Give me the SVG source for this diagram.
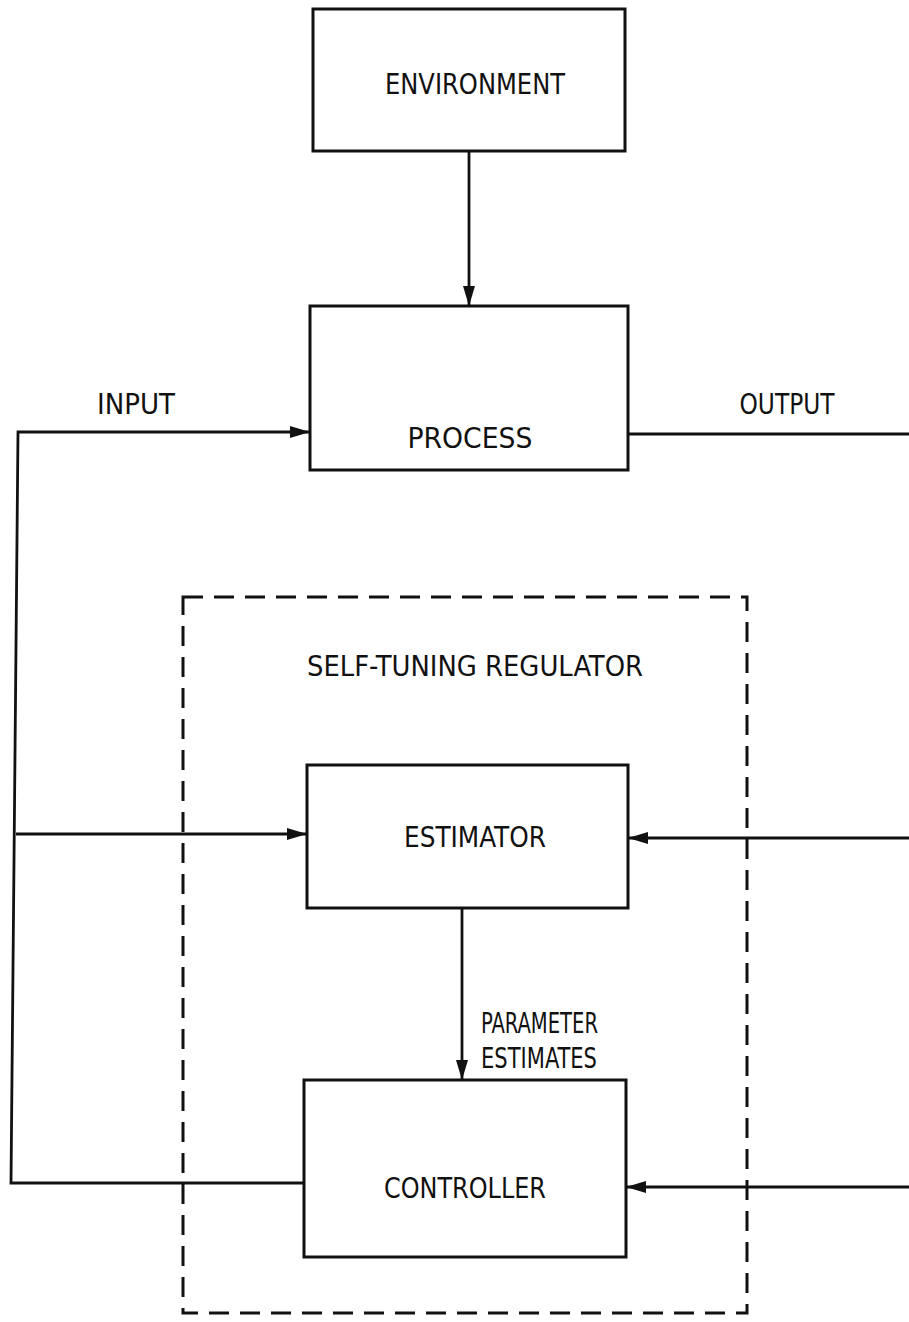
<svg xmlns="http://www.w3.org/2000/svg" width="909" height="1322" viewBox="0 0 909 1322">
<style>
.box{fill:none;stroke:#111;stroke-width:3}
.ln{fill:none;stroke:#111;stroke-width:2.8}
.dash{fill:none;stroke:#111;stroke-width:3;stroke-dasharray:20 11}
text{font-family:"DejaVu Sans Condensed","Liberation Sans Narrow","Liberation Sans",sans-serif;font-size:29px;fill:#111}
</style>
<defs>
<marker id="arr" viewBox="0 0 20 12" refX="20" refY="6" markerWidth="20" markerHeight="12" markerUnits="userSpaceOnUse" orient="auto">
<path d="M0,0 L20,6 L0,12 z" fill="#111"/>
</marker>
</defs>
<rect width="909" height="1322" fill="#fff"/>
<g id="environment">
<rect class="box" x="313" y="9" width="312" height="142"/>
<text x="475" y="94" text-anchor="middle" textLength="180" lengthAdjust="spacingAndGlyphs">ENVIRONMENT</text>
</g>
<g id="process">
<rect class="box" x="310" y="306" width="318" height="164"/>
<text x="470" y="448" text-anchor="middle" textLength="125" lengthAdjust="spacingAndGlyphs">PROCESS</text>
</g>
<g id="self-tuning-regulator">
<rect class="dash" x="183" y="597" width="564" height="716"/>
<text x="475" y="676" text-anchor="middle" textLength="336" lengthAdjust="spacingAndGlyphs">SELF-TUNING REGULATOR</text>
</g>
<g id="estimator">
<rect class="box" x="307" y="765" width="321" height="143"/>
<text x="475" y="847" text-anchor="middle" textLength="142" lengthAdjust="spacingAndGlyphs">ESTIMATOR</text>
</g>
<g id="controller">
<rect class="box" x="304" y="1080" width="322" height="177"/>
<text x="465" y="1198" text-anchor="middle" textLength="162" lengthAdjust="spacingAndGlyphs">CONTROLLER</text>
</g>
<g id="labels">
<text x="136" y="414" text-anchor="middle" textLength="78" lengthAdjust="spacingAndGlyphs">INPUT</text>
<text x="787" y="414" text-anchor="middle" textLength="95" lengthAdjust="spacingAndGlyphs">OUTPUT</text>
<text x="481" y="1033" textLength="117" lengthAdjust="spacingAndGlyphs">PARAMETER</text>
<text x="481" y="1068" textLength="116" lengthAdjust="spacingAndGlyphs">ESTIMATES</text>
</g>
<g id="connectors">
<line class="ln" x1="469" y1="151" x2="469" y2="306" marker-end="url(#arr)"/>
<polyline class="ln" points="304,1183 11,1183 18,432 310,432" marker-end="url(#arr)"/>
<line class="ln" x1="628" y1="434" x2="909" y2="434"/>
<line class="ln" x1="16" y1="834" x2="307" y2="834" marker-end="url(#arr)"/>
<line class="ln" x1="909" y1="838" x2="628" y2="838" marker-end="url(#arr)"/>
<line class="ln" x1="462" y1="908" x2="462" y2="1080" marker-end="url(#arr)"/>
<line class="ln" x1="909" y1="1187" x2="626" y2="1187" marker-end="url(#arr)"/>
</g>
</svg>
